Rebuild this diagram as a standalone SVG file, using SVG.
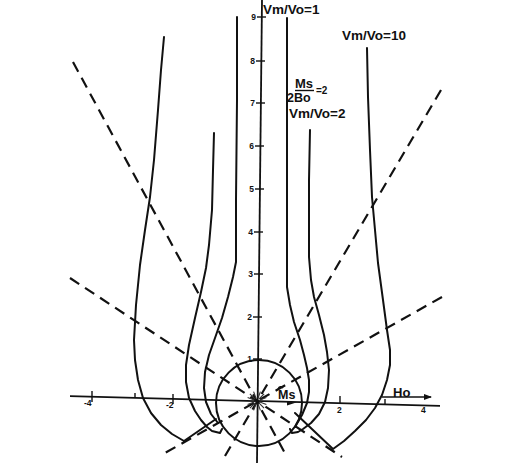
<svg xmlns="http://www.w3.org/2000/svg" width="514" height="468" viewBox="0 0 514 468">
<style>
.ax{stroke:#111;stroke-width:1.8;fill:none}
.tk{stroke:#111;stroke-width:1.4;fill:none}
.cv{stroke:#111;stroke-width:2;fill:none;stroke-linejoin:round;stroke-linecap:round}
.ds{stroke:#111;stroke-width:2.2;fill:none;stroke-dasharray:11 7}
.sp{stroke:#333;stroke-width:1.1}
.lb{font-family:"Liberation Sans",Arial,sans-serif;font-weight:bold;fill:#111}
.nm{font-family:"Liberation Sans",Arial,sans-serif;font-weight:bold;font-size:8.5px;fill:#111}
</style>
<defs>
<marker id="ah" markerWidth="8" markerHeight="6" refX="7" refY="3" orient="auto" markerUnits="userSpaceOnUse">
<path d="M0,0 L8,3 L0,6 Z" fill="#111"/>
</marker>
</defs>
<rect width="514" height="468" fill="#fff"/>

<g id="axes">
<line class="ax" x1="262" y1="0" x2="257" y2="463"/>
<line class="ax" x1="70" y1="396.2" x2="440" y2="405.8"/>
<g class="tk">
<line x1="257" y1="17" x2="266" y2="17"/>
<line x1="256" y1="61" x2="265" y2="61"/>
<line x1="256" y1="103" x2="265" y2="103"/>
<line x1="255" y1="146" x2="264" y2="146"/>
<line x1="255" y1="189" x2="264" y2="189"/>
<line x1="254" y1="232" x2="263" y2="232"/>
<line x1="254" y1="274" x2="263" y2="274"/>
<line x1="253" y1="317" x2="262" y2="317"/>
<line x1="253" y1="359" x2="262" y2="359"/>
<line x1="92" y1="391" x2="92" y2="402"/>
<line x1="135" y1="393" x2="135" y2="398"/>
<line x1="173" y1="394" x2="173" y2="404"/>
<line x1="340" y1="396" x2="340" y2="403"/>
<line x1="385" y1="399" x2="385" y2="404"/>
</g>
<g class="nm" text-anchor="end">
<text x="256" y="20">9</text>
<text x="255" y="64">8</text>
<text x="255" y="106">7</text>
<text x="254" y="149">6</text>
<text x="254" y="192">5</text>
<text x="253" y="235">4</text>
<text x="253" y="277">3</text>
<text x="252" y="320">2</text>
<text x="252" y="362">1</text>
</g>
<g class="nm">
<text x="84" y="406">-4</text>
<text x="166" y="408">-2</text>
<text x="337" y="413">2</text>
<text x="421" y="413">4</text>
</g>
<line class="tk" x1="382" y1="397" x2="431" y2="397" marker-end="url(#ah)"/>
<text class="lb" x="393" y="397" font-size="13">Ho</text>
</g>

<g id="connectors">
<line class="ds" x1="73" y1="62" x2="287" y2="457"/>
<line class="ds" x1="70" y1="278" x2="342" y2="457"/>
<line class="ds" x1="441" y1="90" x2="225" y2="456"/>
<line class="ds" x1="442" y1="297" x2="165" y2="453"/>
</g>

<g id="circle-ms">
<circle cx="259" cy="403" r="43" class="cv"/>
<g class="sp">
<line x1="259.8" y1="402" x2="266.4" y2="404.4"/>
<line x1="259.1" y1="403.1" x2="264.1" y2="408.1"/>
<line x1="258" y1="403.8" x2="260.4" y2="410.4"/>
<line x1="256" y1="403.8" x2="253.6" y2="410.4"/>
<line x1="254.9" y1="403.1" x2="249.9" y2="408.1"/>
<line x1="254.2" y1="402" x2="247.6" y2="404.4"/>
<line x1="254.2" y1="400" x2="247.6" y2="397.6"/>
<line x1="254.9" y1="398.9" x2="249.9" y2="393.9"/>
<line x1="256" y1="398.2" x2="253.6" y2="391.6"/>
<line x1="258" y1="398.2" x2="260.4" y2="391.6"/>
<line x1="259.1" y1="398.9" x2="264.1" y2="393.9"/>
<line x1="259.8" y1="400" x2="266.4" y2="397.6"/>
</g>
<path d="M287,402 L297,402.3 L287,405.5 Z" fill="#111"/>
<path d="M278,389 Q280,385 283,388" class="tk"/>
<text class="lb" x="278" y="399" font-size="12.5">Ms</text>
</g>

<g id="curve-vm-vo-1">
<polyline class="cv" points="237,17 237,100 236,200 236,262 233,277 228,297 222,318 215,338 209,355 205,372 204,388 206,402 211,414 218,423"/>
<polyline class="cv" points="287,18 287,100 287,200 287,287 290,305 294,322 300,340 304,355 307,368 309,380 309,392 307,403 302,415 295,427"/>
<text class="lb" x="263" y="14" font-size="13.5">Vm/Vo=1</text>
</g>

<g id="curve-vm-vo-2">
<polyline class="cv" points="214,133 213,170 212,210 209,245 206,268 201,292 195,318 189,345 186,365 186,382 189,398 195,411 201,420 207,427 212,431 220,433 222,429"/>
<polyline class="cv" points="310,130 309,180 309,230 309,257 311,280 314,297 319,315 324,335 327,352 329,370 328,388 325,402 319,414 311,423 303,429 298,432 292,433 290,429"/>
<text class="lb" x="289" y="118" font-size="13.5">Vm/Vo=2</text>
<text class="lb" x="295" y="88" font-size="13">Ms</text>
<line class="tk" x1="295" y1="90.5" x2="314" y2="90.5"/>
<text class="lb" x="316" y="94" font-size="10">=2</text>
<text class="lb" x="287" y="102" font-size="12.5">2Bo</text>
</g>

<g id="curve-vm-vo-10">
<polyline class="cv" points="164,37 161,70 158,110 154,160 150,197 145,230 140,265 136,305 134,340 135,360 138,380 143,398 151,413 161,425 172,434 184,441"/>
<line class="cv" x1="184" y1="441" x2="216" y2="419"/>
<polyline class="cv" points="367,48 368,97 370,150 372,197 375,230 378,263 383,300 387,330 390,350 390,365 387,380 382,395 375,408 366,420 355,431 344,441 333,449 295,413"/>
<text class="lb" x="342" y="40" font-size="13.5">Vm/Vo=10</text>
</g>
</svg>
